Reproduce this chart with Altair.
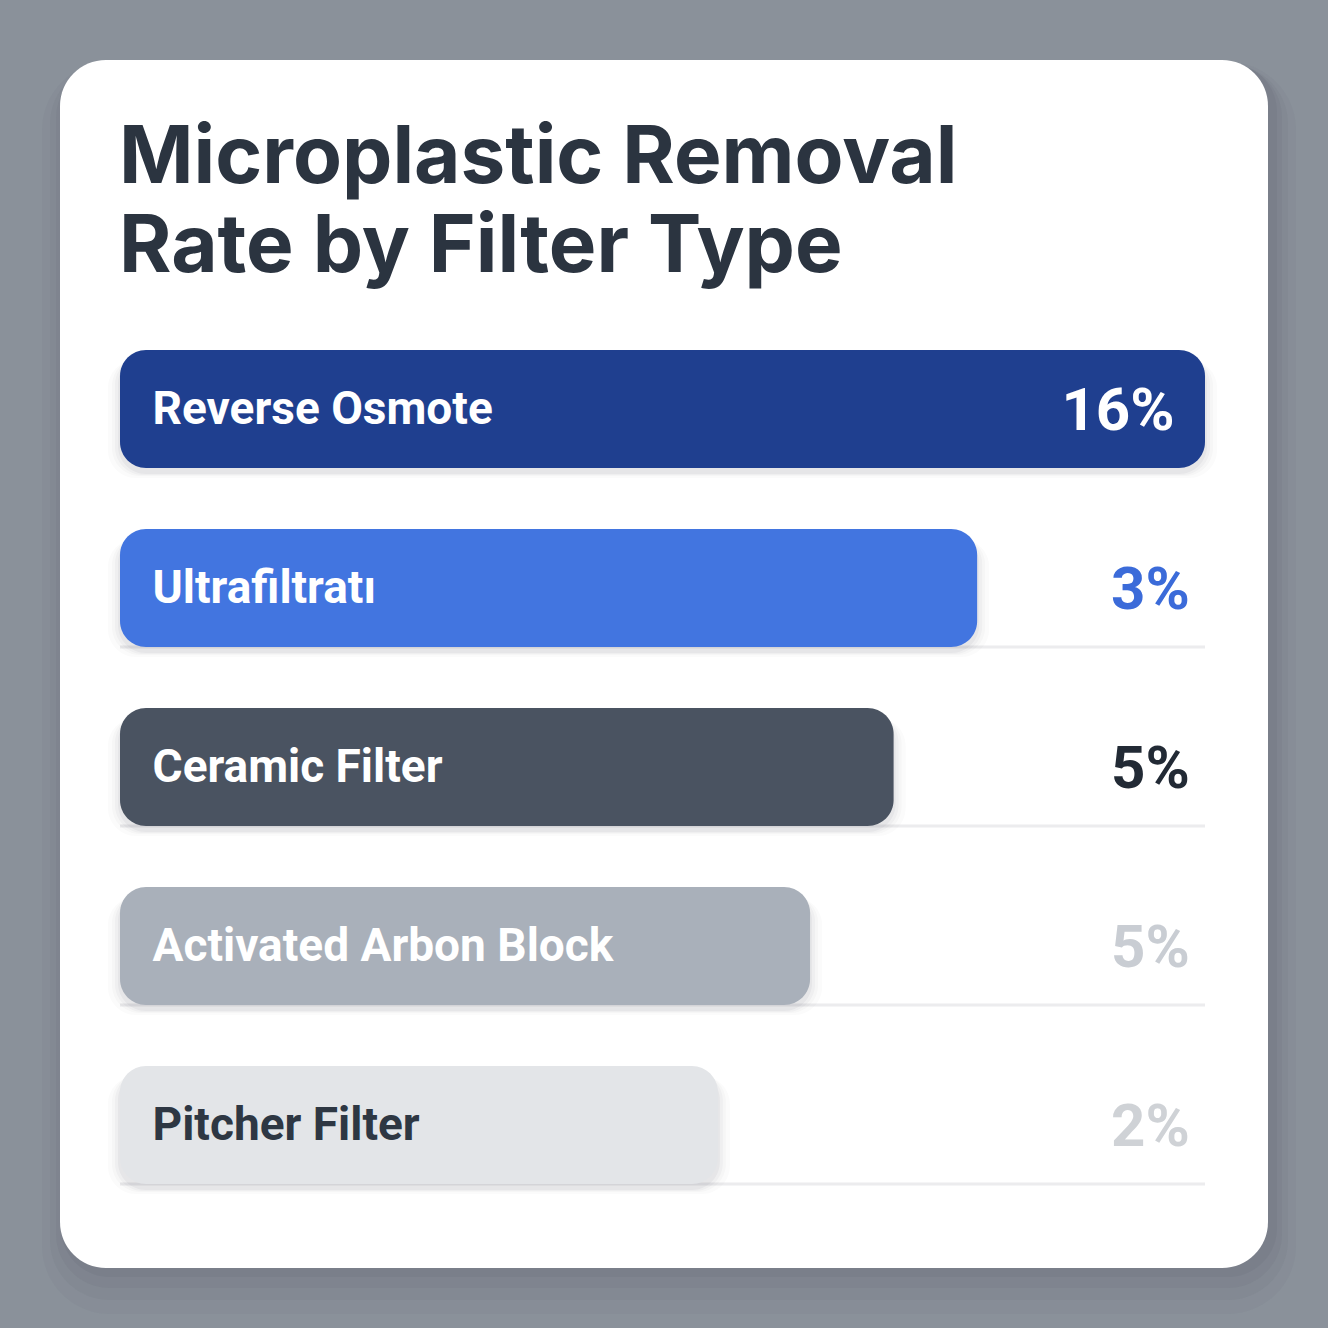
import altair as alt
import pandas as pd

# ---- data ----
filters = ["Reverse Osmote", "Ultrafiltratı", "Ceramic Filter", "Activated Arbon Block", "Pitcher Filter"]
bar_length = [100, 79.0, 71.3, 63.6, 55.1]          # relative bar length (full bar = 100)
value_labels = ["16%", "3%", "5%", "5%", "2%"]
title_lines = ["Microplastic Removal", "Rate by Filter Type"]

# ---- styles ----
bar_colors = ["#1f3f8f", "#4275e0", "#4a5361", "#a9b0ba", "#e3e5e8"]
name_colors = ["#ffffff", "#ffffff", "#ffffff", "#ffffff", "#2e3743"]
value_colors = ["#ffffff", "#3b6bd9", "#222a35", "#c9cdd3", "#cfd2d6"]

df = pd.DataFrame({"filter": filters, "bar": bar_length, "label": value_labels,
                   "bar_c": bar_colors, "name_c": name_colors, "val_c": value_colors})
df["inside"] = df["bar"] >= 99
df["zero"] = 0.0
df["full"] = 100.0
df["nx"] = 3.0
df["vx"] = df["inside"].map({True: 97.2, False: 98.6})

FONT = "Inter"
FONT2 = "Roboto"
W = H = 1328

xs = alt.Scale(domain=[0, 100], range=[120, 1205])
ys = alt.Scale(domain=filters, range=[350, 1184], paddingInner=0.34, paddingOuter=0)
Yb = alt.Y("filter:N", scale=ys, axis=None, sort=filters)
def X(f):
    return alt.X(f, scale=xs, axis=None)

one = alt.Data(values=[{"k": 1}])

# card shadow
shadows = []
for grow, dy, op in [(22, 24, 0.035), (14, 18, 0.05), (8, 12, 0.06), (3, 6, 0.07)]:
    shadows.append(
        alt.Chart(one).mark_rect(cornerRadius=46 + grow, color="#3d4550", opacity=op).encode(
            x=alt.value(60 - grow + 4), x2=alt.value(1268 + grow + 6),
            y=alt.value(60 - grow + dy), y2=alt.value(1268 + grow + dy),
        )
    )

card = alt.Chart(one).mark_rect(cornerRadius=46, color="#ffffff").encode(
    x=alt.value(60), x2=alt.value(1268), y=alt.value(60), y2=alt.value(1268)
)

title = alt.Chart(one).mark_text(
    font=FONT, fontSize=80, fontWeight=700, color="#2b3440", align="left",
    baseline="alphabetic", lineHeight=89
).encode(x=alt.value(119), y=alt.value(183), text=alt.value(title_lines))

base = alt.Chart(df)

rules = base.transform_filter("!datum.inside").mark_rule(color="#ececee", strokeWidth=3).encode(
    y=alt.Y("filter:N", scale=ys, axis=None, sort=filters, bandPosition=1),
    x=X("zero:Q"), x2="full:Q",
)

bar_shadows = []
for dy, grow, op in [(22, 12, 0.018), (16, 8, 0.025), (12, 5, 0.032), (8, 2, 0.04)]:
    bar_shadows.append(
        base.mark_bar(cornerRadius=28, color="#1c2430", opacity=op,
                      yOffset=dy - grow, y2Offset=dy + grow, xOffset=-grow, x2Offset=grow).encode(
            x=X("zero:Q"), x2="bar:Q", y=Yb
        )
    )

bars = base.mark_bar(cornerRadius=26).encode(
    x=X("zero:Q"), x2="bar:Q", y=Yb,
    color=alt.Color("bar_c:N", scale=None, legend=None),
)

names = base.mark_text(font=FONT2, fontSize=46, fontWeight=700, align="left", baseline="middle",
                       dy=1).encode(
    x=X("nx:Q"), y=Yb, text="filter:N",
    color=alt.Color("name_c:N", scale=None, legend=None),
)

values = base.mark_text(font=FONT2, fontSize=60, fontWeight=700, align="right", baseline="middle",
                        dy=3).encode(
    x=X("vx:Q"), y=Yb, text="label:N",
    color=alt.Color("val_c:N", scale=None, legend=None),
)

chart = alt.layer(
    *shadows, card, title, rules, *bar_shadows, bars, names, values
).properties(
    width=W, height=H, padding=0, background="#8a919a",
    autosize=alt.AutoSizeParams(type="none"),
).configure_view(stroke=None)

chart.save("out.html", embed_options={"renderer": "svg", "actions": False})
